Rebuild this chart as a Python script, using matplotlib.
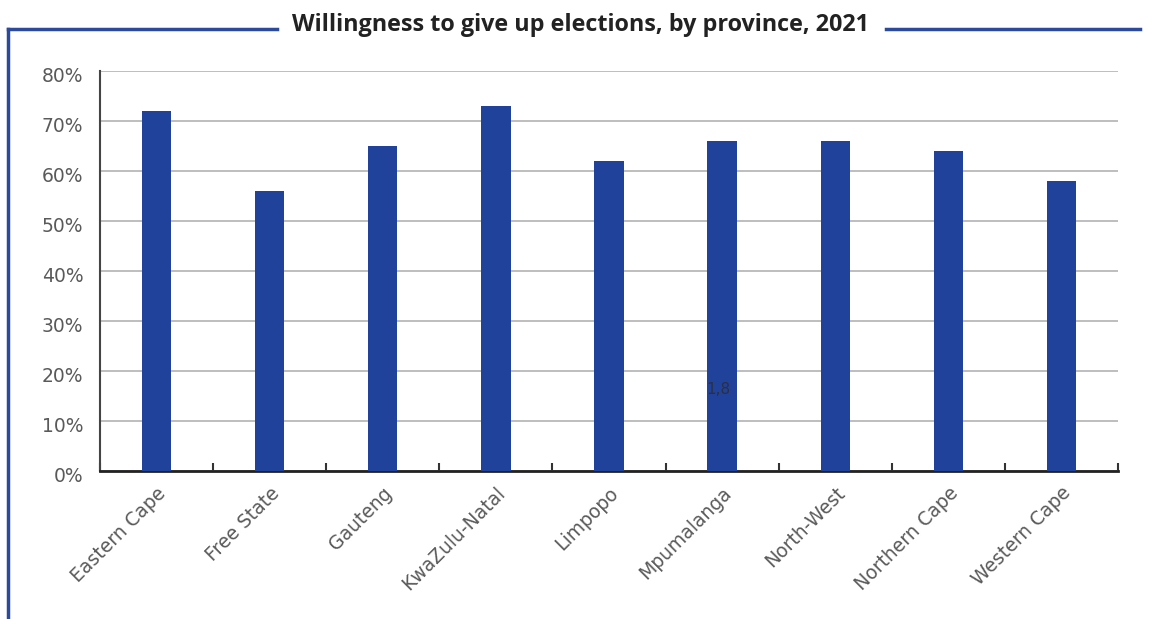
import numpy as np
import matplotlib.pyplot as plt
from matplotlib.lines import Line2D
from matplotlib.transforms import ScaledTranslation

# data
provinces = ["Eastern Cape", "Free State", "Gauteng", "KwaZulu-Natal", "Limpopo",
             "Mpumalanga", "North-West", "Northern Cape", "Western Cape"]
willing = [72, 56, 65, 73, 62, 66, 66, 64, 58]
yticks = [0, 10, 20, 30, 40, 50, 60, 70, 80]
ytick_labels = ["0%", "10%", "20%", "30%", "40%", "50%", "60%", "70%", "80%"]
title = "Willingness to give up elections, by province, 2021"

blue = "#21429a"
frame_blue = "#2b4a9c"
label_grey = "#5a5a5a"

fig = plt.figure(figsize=(11.51, 6.19), dpi=100)
ax = fig.add_axes([0.0869, 0.2391, 0.9713 - 0.0869, 0.8853 - 0.2391])

x = np.arange(len(provinces))
ax.bar(x, willing, width=0.26, color=blue, zorder=3)

ax.set_xlim(-0.5, len(provinces) - 0.5)
ax.set_ylim(0, 80)
ax.set_yticks(yticks)
ax.set_yticklabels(ytick_labels)
ax.yaxis.grid(True, color="#b3b3b3", linewidth=1.2, zorder=0)
ax.tick_params(axis="y", length=0, pad=12, labelsize=13.5, labelcolor=label_grey)
# labels sit a little below their gridlines in the source
shift = ScaledTranslation(0, -4 / 100, fig.dpi_scale_trans)
for lab in ax.get_yticklabels():
    lab.set_fontfamily("DejaVu Sans")
    lab.set_transform(lab.get_transform() + shift)

ax.set_xticks(x)
ax.set_xticklabels(provinces, rotation=45, ha="right", va="top",
                   rotation_mode="anchor", fontsize=13.5, color=label_grey,
                   fontfamily="DejaVu Sans")
ax.tick_params(axis="x", which="major", length=0, pad=9)
ax.set_xticks(np.arange(-0.5, len(provinces), 1), minor=True)
ax.tick_params(axis="x", which="minor", direction="in", length=6,
               width=1.5, color="#333333")

for s in ["top", "right"]:
    ax.spines[s].set_visible(False)
ax.spines["bottom"].set_color("#222222")
ax.spines["bottom"].set_linewidth(2)
ax.spines["left"].set_color("#444444")
ax.spines["left"].set_linewidth(1.5)

# stray label in the source
ax.text(4.97, 16.3, "1,8", ha="center", va="center", fontsize=11,
        color="#2a2f45", fontfamily="DejaVu Sans", zorder=4)

# title with blue frame
fig.text(0.5043, 0.9596, title, ha="center", va="center", fontsize=16.8,
         fontweight="bold", color="#222222", fontfamily="Open Sans")
ytop = 1 - 29 / 619
fig.add_artist(Line2D([8 / 1151, 277 / 1151], [ytop, ytop], color=frame_blue, lw=2.5))
fig.add_artist(Line2D([886 / 1151, 1140 / 1151], [ytop, ytop], color=frame_blue, lw=2.5))
fig.add_artist(Line2D([8 / 1151, 8 / 1151], [ytop, 0], color=frame_blue, lw=2.5))

fig.savefig("out.png", dpi=100)
